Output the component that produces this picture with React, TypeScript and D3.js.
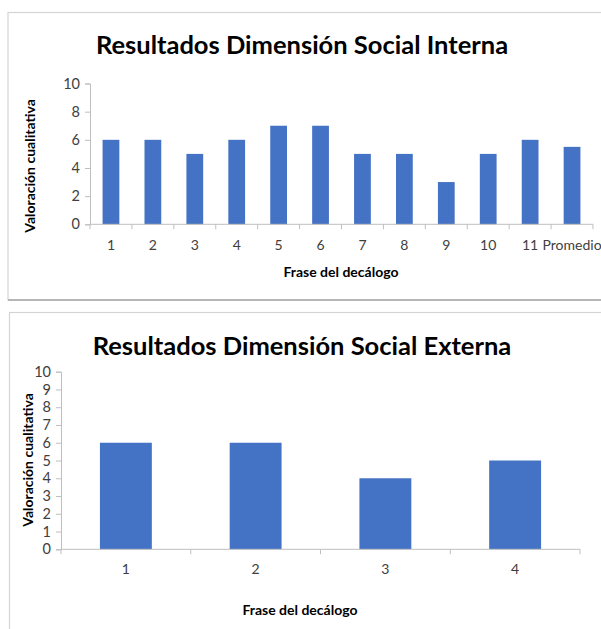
import React, { useEffect, useRef } from "react";
import * as d3 from "d3";

// Chart 1: internal social dimension
const internaCategories = ["1", "2", "3", "4", "5", "6", "7", "8", "9", "10", "11", "Promedio"];
const internaValues = [6, 6, 5, 6, 7, 7, 5, 5, 3, 5, 6, 5.5];
const internaTicks = [0, 2, 4, 6, 8, 10];

// Chart 2: external social dimension
const externaCategories = ["1", "2", "3", "4"];
const externaValues = [6, 6, 4, 5];
const externaTicks = [0, 1, 2, 3, 4, 5, 6, 7, 8, 9, 10];

const BAR = "#4472C4";
const FONT = "Lato, 'Open Sans', sans-serif";

type Panel = {
  title: string;
  categories: string[];
  values: number[];
  ticks: number[];
  frameY: number;
  frameH: number;
  frameX: number;
  titleY: number;
  xRange: [number, number];
  yRange: [number, number];
  tickLabelY: number;
  xTitle: [number, number];
  yTitle: [number, number];
};

const panels: Panel[] = [
  {
    title: "Resultados Dimensión Social Interna",
    categories: internaCategories,
    values: internaValues,
    ticks: internaTicks,
    frameX: 8,
    frameY: 12.5,
    frameH: 287.5,
    titleY: 54,
    xRange: [90, 593],
    yRange: [224.3, 83.5],
    tickLabelY: 250,
    xTitle: [341, 277],
    yTitle: [30, 166],
  },
  {
    title: "Resultados Dimensión Social Externa",
    categories: externaCategories,
    values: externaValues,
    ticks: externaTicks,
    frameX: 9.5,
    frameY: 312.5,
    frameH: 400,
    titleY: 355,
    xRange: [61, 580],
    yRange: [549.3, 371.7],
    tickLabelY: 574,
    xTitle: [300, 615],
    yTitle: [28, 460],
  },
];

const App: React.FC = () => {
  const ref = useRef<SVGSVGElement | null>(null);

  useEffect(() => {
    const svg = d3.select(ref.current);
    svg.selectAll("*").remove();

    svg.append("rect").attr("width", 601).attr("height", 629).attr("fill", "#fff");

    panels.forEach((p) => {
      const g = svg.append("g");

      // frame
      g.append("rect")
        .attr("x", p.frameX)
        .attr("y", p.frameY)
        .attr("width", 700)
        .attr("height", p.frameH)
        .attr("fill", "#fff")
        .attr("stroke", "#d4d4d4")
        .attr("stroke-width", 1.2);
      if (p.frameH < 300) {
        g.append("line")
          .attr("x1", p.frameX)
          .attr("x2", 601)
          .attr("y1", p.frameY + p.frameH)
          .attr("y2", p.frameY + p.frameH)
          .attr("stroke", "#a6a6a6")
          .attr("stroke-width", 1.5);
      }

      g.append("text")
        .attr("x", 302)
        .attr("y", p.titleY)
        .attr("text-anchor", "middle")
        .style("font-family", FONT)
        .style("font-size", "25.5px")
        .style("font-weight", "bold")
        .attr("fill", "#000")
        .text(p.title);

      const x = d3
        .scaleBand<string>()
        .domain(p.categories)
        .range(p.xRange)
        .paddingInner(0.6)
        .paddingOuter(0.3);
      const y = d3.scaleLinear().domain([0, 10]).range(p.yRange);
      const step = x.step();

      // y axis
      const yAxis = g
        .append("g")
        .attr("transform", `translate(${p.xRange[0]},0)`)
        .call(d3.axisLeft(y).tickValues(p.ticks).tickSize(5).tickPadding(5));
      yAxis.select(".domain").attr("stroke", "#bfbfbf");
      yAxis.selectAll(".tick line").attr("stroke", "#bfbfbf");
      yAxis
        .selectAll("text")
        .style("font-family", FONT)
        .style("font-size", "14.5px")
        .attr("fill", "#404040");

      // bars
      g.append("g")
        .selectAll("rect")
        .data(p.values)
        .join("rect")
        .attr("x", (_d, i) => x(p.categories[i])!)
        .attr("y", (d) => y(d))
        .attr("width", x.bandwidth())
        .attr("height", (d) => y(0) - y(d))
        .attr("fill", BAR);

      // x axis line + boundary ticks
      const y0 = y(0);
      g.append("line")
        .attr("x1", p.xRange[0])
        .attr("x2", p.xRange[1])
        .attr("y1", y0)
        .attr("y2", y0)
        .attr("stroke", "#bfbfbf");
      g.append("g")
        .selectAll("line")
        .data(d3.range(p.categories.length + 1))
        .join("line")
        .attr("x1", (k) => p.xRange[0] + k * step)
        .attr("x2", (k) => p.xRange[0] + k * step)
        .attr("y1", y0)
        .attr("y2", y0 + 5)
        .attr("stroke", "#bfbfbf");

      g.append("g")
        .selectAll("text")
        .data(p.categories)
        .join("text")
        .attr("x", (d) => x(d)! + x.bandwidth() / 2)
        .attr("y", p.tickLabelY)
        .attr("text-anchor", "middle")
        .style("font-family", FONT)
        .style("font-size", "14px")
        .attr("fill", "#404040")
        .text((d) => d);

      // axis titles
      g.append("text")
        .attr("x", p.xTitle[0])
        .attr("y", p.xTitle[1])
        .attr("text-anchor", "middle")
        .style("font-family", FONT)
        .style("font-size", "14px")
        .style("font-weight", "bold")
        .attr("fill", "#000")
        .text("Frase del decálogo");

      g.append("text")
        .attr("transform", `translate(${p.yTitle[0]},${p.yTitle[1]}) rotate(-90)`)
        .attr("text-anchor", "middle")
        .attr("dy", "0.35em")
        .style("font-family", FONT)
        .style("font-size", "14px")
        .style("font-weight", "bold")
        .attr("fill", "#000")
        .text("Valoración cualitativa");
    });
  }, []);

  return (
    <svg
      ref={ref}
      width={601}
      height={629}
      style={{ position: "absolute", left: 0, top: 0 }}
    />
  );
};

export default App;
